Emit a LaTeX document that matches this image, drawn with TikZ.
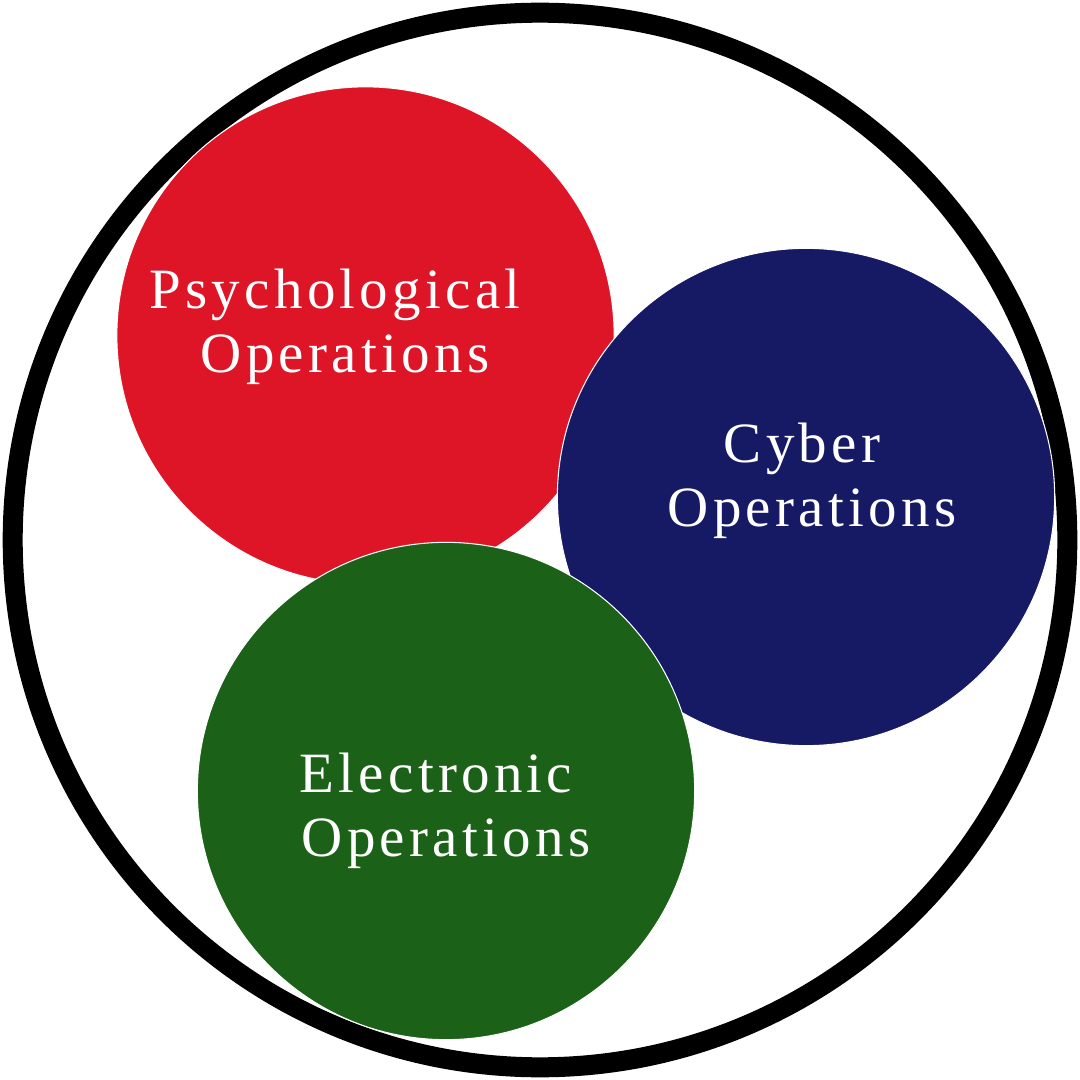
\documentclass[tikz,border=0pt]{standalone}
\usepackage{fontspec}
\usepackage{xcolor}
\newfontfamily\opsfont{Liberation Serif}[LetterSpace=7.5]
\definecolor{psyred}{HTML}{DE1427}
\definecolor{cybernavy}{HTML}{161963}
\definecolor{ewgreen}{HTML}{1B6117}
\newcommand{\opsindent}{\hspace*{0.2cm}}

\begin{document}
\begin{tikzpicture}[
  x=0.01cm,y=-0.01cm,
  ring/.style={draw=black,circle,line width=0.2cm,minimum size=10.54cm,inner sep=0pt},
  opcircle/.style={circle,draw=white,line width=0.3pt,minimum size=4.97cm,inner sep=0pt},
  oplabel/.style={text=white,align=center,inner sep=0pt,
    font=\opsfont\fontsize{16.2pt}{18.2pt}\selectfont}
]
\path[use as bounding box] (0,0) rectangle (1080,1080);
\node[ring] (outer) at (540,540) {};
\node[opcircle,fill=psyred] (psyops) at (365.5,335.5) {};
\node[opcircle,fill=cybernavy] (cyberops) at (806,497) {};
\node[opcircle,fill=ewgreen] (ewops) at (446,791) {};
\node[oplabel] (psylabel) at (335,327) {Psychological\\\opsindent Operations};
\node[oplabel] (cyberlabel) at (802,481) {Cyber\\\opsindent Operations};
\node[oplabel] (ewlabel) at (436,811) {Electronic\\\opsindent Operations};
\end{tikzpicture}
\end{document}
